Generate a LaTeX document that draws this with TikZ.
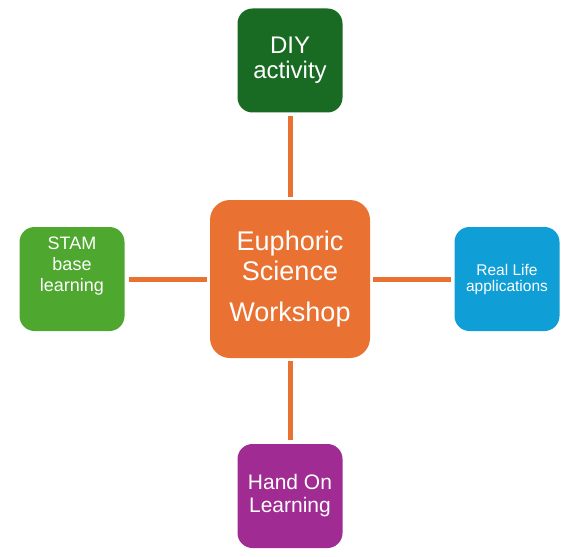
\documentclass[tikz,border=0pt]{standalone}
\usepackage{fontspec}
\setmainfont{Liberation Sans}
\usetikzlibrary{positioning}

\definecolor{hubOrange}{HTML}{E97132}
\definecolor{diyGreen}{HTML}{196B24}
\definecolor{stamGreen}{HTML}{4EA72E}
\definecolor{realBlue}{HTML}{0F9ED5}
\definecolor{handPurple}{HTML}{A02B93}

\tikzset{
  box/.style={rounded corners=15pt, minimum width=105pt, minimum height=104pt,
    inner sep=0pt, outer sep=0pt, text=white, align=center},
  link/.style={draw=hubOrange, line width=5pt, shorten <=3pt, shorten >=4pt}
}

\begin{document}
\begin{tikzpicture}[x=1pt, y=-1pt]
    \useasboundingbox (0,0) rectangle (572,556);
    % Central hub
    \node[box, fill=hubOrange, rounded corners=20pt, minimum width=160pt, minimum height=158pt,
      font=\fontsize{27}{30}\selectfont] (hub) at (290,279) {Euphoric\\Science\\[11pt]Workshop};
    % Outer boxes
    \node[box, fill=diyGreen, font=\fontsize{24}{25}\selectfont] (diy) at (290,60.5) {DIY\\activity};
    \node[box, fill=stamGreen] (stam) at (72,279) {};
    \node[text=white, align=center, font=\fontsize{18}{21}\selectfont] (stamtext)
      at ([yshift=12.5pt]stam.center) {STAM\\base\\learning};
    \node[box, fill=realBlue, font=\fontsize{15.5}{16}\selectfont] (real) at (507,279) {Real Life\\applications};
    \node[box, fill=handPurple, font=\fontsize{21}{23}\selectfont] (hand) at (290,496) {Hand On\\Learning};
    % Connectors
    \foreach \leaf in {diy, stam, real, hand} {
      \draw[link] (hub) -- (\leaf);
    }
  \end{tikzpicture}
\end{document}
